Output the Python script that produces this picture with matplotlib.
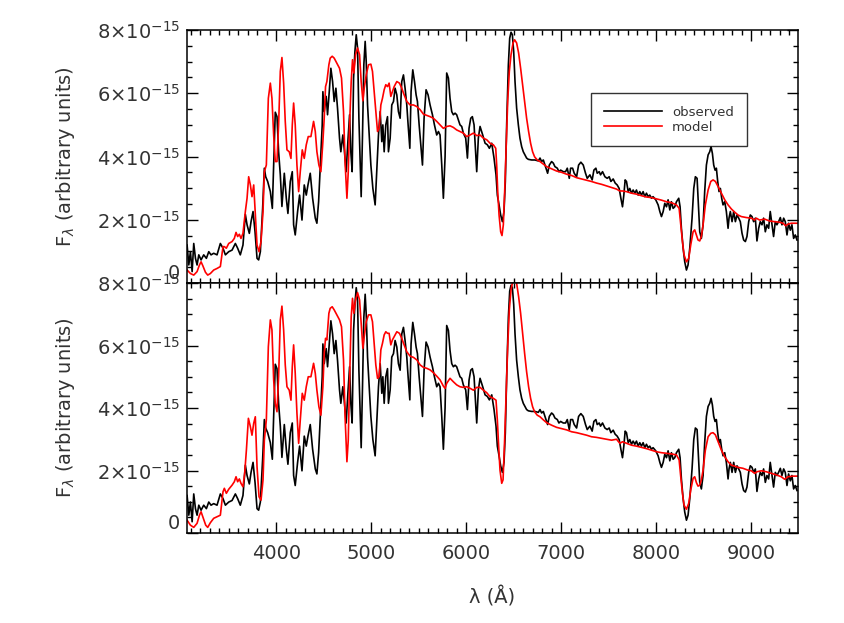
import numpy as np
import matplotlib
matplotlib.use("Agg")
import matplotlib.pyplot as plt
from matplotlib.ticker import MultipleLocator, FuncFormatter
from matplotlib.transforms import ScaledTranslation

# ---------------- data (flux in units of 1e-15) ----------------
SCALE = 1e-15

obs_wave = [3061, 3079, 3096, 3114, 3131, 3149, 3166, 3184, 3208, 3236, 3264, 3289, 3313, 3341, 3376,
            3411, 3439, 3464, 3499, 3534, 3569, 3593, 3621, 3649, 3674, 3692, 3716, 3734, 3755, 3776,
            3797, 3814, 3832, 3856, 3874, 3888, 3909, 3937, 3958, 3972, 3989, 4007, 4024, 4042, 4059,
            4084, 4105, 4122, 4147, 4168, 4182, 4199, 4224, 4245, 4270, 4294, 4315, 4333, 4357, 4382,
            4410, 4427, 4445, 4462, 4483, 4490, 4504, 4525, 4539, 4557, 4574, 4592, 4609, 4627, 4644,
            4665, 4679, 4700, 4714, 4735, 4753, 4771, 4784, 4798, 4813, 4827, 4841, 4855, 4869, 4883,
            4893, 4907, 4921, 4935, 4946, 4960, 4977, 4995, 5016, 5040, 5058, 5075, 5093, 5110, 5121,
            5135, 5152, 5170, 5180, 5198, 5215, 5233, 5250, 5268, 5285, 5303, 5320, 5338, 5355, 5373,
            5387, 5405, 5418, 5436, 5454, 5471, 5485, 5503, 5520, 5538, 5555, 5576, 5597, 5618, 5643,
            5664, 5688, 5706, 5723, 5741, 5758, 5776, 5793, 5811, 5828, 5846, 5863, 5881, 5898, 5916,
            5933, 5951, 5968, 5993, 6011, 6028, 6046, 6063, 6081, 6095, 6109, 6126,
            6144, 6172, 6197, 6221, 6242, 6267, 6291, 6312, 6326, 6344, 6361, 6379, 6396, 6410, 6424,
            6442, 6456, 6470, 6484, 6498, 6512, 6529, 6547, 6564, 6582, 6599, 6617, 6634, 6652, 6687,
            6722, 6757, 6775, 6792, 6810, 6827, 6855, 6873, 6897, 6915, 6932, 6957, 6974, 6992, 7020,
            7044, 7062, 7083, 7097, 7118, 7135, 7160, 7181, 7205, 7230, 7254, 7272, 7300, 7324, 7342,
            7363, 7377, 7398, 7412, 7433, 7458, 7482, 7503, 7521, 7545, 7566, 7587, 7608, 7626, 7643,
            7657, 7671, 7685, 7703, 7720, 7738, 7755, 7773, 7790, 7808, 7825, 7843, 7860, 7878, 7895,
            7913, 7930, 7948, 7965, 7993, 8018, 8036, 8053, 8071, 8088, 8106, 8123, 8141, 8158, 8176,
            8193, 8211, 8235, 8249, 8263, 8281, 8298, 8316, 8333, 8351, 8375, 8393, 8410, 8428, 8442,
            8456, 8473, 8491, 8508, 8526, 8544, 8561, 8575, 8589, 8603, 8617, 8631, 8645, 8659, 8673,
            8687, 8701, 8719, 8736, 8754, 8764, 8778, 8796, 8813, 8831, 8848, 8866, 8883, 8901, 8918,
            8936, 8953, 8971, 8988, 9006, 9023, 9041, 9058, 9076, 9093, 9111, 9128, 9146, 9163, 9181,
            9198, 9216, 9233, 9251, 9268, 9286, 9304, 9321, 9339, 9356, 9374, 9391, 9409, 9426, 9444,
            9461, 9479]
obs_flux = [1.2, 0.57, 0.99, 0.36, 1.25, 0.78, 0.57, 0.89, 0.73, 0.89, 0.78, 0.99, 0.89, 0.94, 0.89,
            1.25, 1.1, 0.89, 0.99, 1.04, 1.25, 1.1, 0.89, 1.2, 2.17, 1.84, 1.57, 1.94, 2.26, 1.62,
            0.78, 0.73, 0.99, 2.36, 3.63, 3.36, 3.21, 2.89, 2.36, 3.73, 5.4, 5.26, 4.15, 3.42, 2.42,
            3.47, 2.68, 2.2, 3.21, 3.52, 1.84, 1.52, 2.26, 2.78, 1.99, 3.1, 2.78, 3.1, 3.47, 2.68,
            2.05, 1.89, 2.57, 3.63, 5.0, 6.05, 5.42, 5.9, 5.32, 6.05, 6.79, 6.37, 5.74, 6.16, 5.53,
            4.58, 4.15, 4.68, 4.26, 3.52, 4.47, 5.32, 4.15, 3.52, 6.48, 7.32, 7.85, 7.43, 5.21, 3.73,
            2.73, 4.68, 6.9, 7.64, 7.0, 5.63, 4.68, 3.73, 2.99, 2.47, 3.63, 4.68, 5.42, 4.47, 5.0,
            4.15, 5.0, 5.26, 4.15, 4.58, 5.63, 5.74, 6.16, 5.95, 5.42, 5.21, 6.37, 6.58, 6.16, 5.63,
            5.0, 4.26, 6.05, 6.74, 6.37, 5.95, 5.74, 5.0, 4.37, 3.73, 5.21, 6.11, 5.95, 5.63, 5.32,
            5.0, 4.68, 4.79, 4.68, 3.73, 2.68, 4.0, 6.64, 6.48, 5.84, 5.42, 5.32, 5.37, 5.32, 5.16,
            5.0, 4.95, 4.74, 4.58, 3.95, 4.89, 5.21, 5.26, 5.0, 4.26, 3.52, 4.58,
            4.95, 4.68, 4.42, 4.37, 4.26, 4.42, 3.95, 3.42, 2.78, 2.47, 2.15, 1.94, 2.26, 3.21, 5.0,
            6.9, 7.74, 7.93, 7.85, 7.32, 6.37, 5.53, 5.0, 4.58, 4.31, 4.15, 4.05, 3.95, 3.91, 3.89,
            3.89, 3.86, 3.95, 3.84, 3.89, 3.73, 3.47, 3.73, 3.84, 3.79, 3.68, 3.63, 3.52, 3.57, 3.52,
            3.52, 3.63, 3.31, 3.63, 3.63, 3.47, 3.36, 3.73, 3.82, 3.73, 3.47, 3.31, 3.42, 3.26, 3.57,
            3.63, 3.47, 3.52, 3.42, 3.52, 3.36, 3.31, 3.36, 3.21, 3.29, 3.16, 3.1, 2.99, 2.68, 2.41,
            2.78, 3.26, 3.21, 2.89, 2.99, 2.84, 2.94, 2.84, 2.94, 2.78, 2.89, 2.78, 2.89, 2.73, 2.84,
            2.73, 2.78, 2.68, 2.73, 2.63, 2.47, 2.26, 2.1, 2.26, 2.52, 2.41, 2.63, 2.31, 2.57, 2.36,
            2.41, 2.57, 2.68, 2.41, 1.73, 1.1, 0.67, 0.41, 0.57, 1.1, 2.05, 2.99, 3.36, 3.31, 2.47,
            1.62, 1.41, 1.84, 2.89, 3.73, 4.05, 4.15, 4.31, 4.1, 3.73, 3.57, 3.63, 3.21, 2.89, 2.99,
            2.68, 2.47, 2.57, 2.26, 1.73, 2.05, 2.26, 1.94, 2.26, 1.94, 2.15, 2.05, 1.94, 1.57, 1.36,
            1.31, 1.47, 1.94, 2.15, 2.1, 1.94, 2.05, 1.33, 1.73, 1.94, 1.84, 2.05, 1.62, 1.84, 1.73,
            2.26, 1.84, 1.47, 1.94, 1.84, 1.94, 2.07, 1.84, 2.05, 1.94, 1.52, 1.89, 1.67, 1.84, 1.41,
            1.52, 1.36]

model_top_wave = [3061, 3096, 3131, 3166, 3191, 3208, 3226, 3254, 3278, 3306, 3341, 3376, 3411, 3439, 3453,
                  3474, 3499, 3534, 3558, 3576, 3593, 3611, 3628, 3649, 3674, 3692, 3709, 3727, 3744, 3762,
                  3779, 3797, 3818, 3839, 3860, 3874, 3895, 3916, 3937, 3954, 3972, 3989, 4007, 4024, 4042,
                  4059, 4077, 4094, 4112, 4136, 4154, 4168, 4182, 4199, 4217, 4235, 4252, 4273, 4294, 4315,
                  4336, 4364, 4392, 4410, 4427, 4448, 4469, 4490, 4504, 4518, 4532, 4553, 4567, 4588, 4609,
                  4637, 4665, 4686, 4707, 4725, 4743, 4757, 4771, 4788, 4802, 4816, 4834, 4855, 4876, 4893,
                  4911, 4925, 4946, 4970, 4995, 5012, 5030, 5047, 5065, 5082, 5100, 5117, 5135, 5152, 5170,
                  5187, 5205, 5222, 5240, 5268, 5296, 5320, 5345, 5373, 5408, 5443, 5478, 5513, 5548, 5583,
                  5618, 5653, 5688, 5723, 5758, 5793, 5828, 5863, 5898, 5933, 5968, 6004, 6039, 6074, 6109,
                  6144, 6179, 6214, 6249, 6284, 6309, 6319, 6330, 6344, 6361, 6375, 6389, 6403, 6417, 6435,
                  6452, 6470, 6491, 6508, 6529, 6550, 6571, 6592, 6613, 6634, 6655, 6676, 6697, 6718, 6746,
                  6775, 6810, 6845, 6897, 6950, 7002, 7055, 7107, 7160, 7212, 7265, 7317, 7370, 7423, 7475,
                  7528, 7580, 7615, 7643, 7685, 7738, 7790, 7843, 7895, 7948, 8001, 8053, 8106, 8158, 8211,
                  8239, 8256, 8274, 8291, 8316, 8340, 8361, 8386, 8403, 8421, 8438, 8456, 8473, 8491, 8515,
                  8544, 8572, 8596, 8621, 8649, 8684, 8719, 8754, 8789, 8824, 8859, 8894, 8946, 8999, 9034,
                  9051, 9086, 9139, 9191, 9244, 9297, 9332, 9360, 9384, 9419, 9472, 9500]
model_top_flux = [0.41, 0.3, 0.25, 0.36, 0.57, 0.67, 0.55, 0.34, 0.25, 0.3, 0.41, 0.46, 0.52, 1.15, 1.15,
                  1.1, 1.25, 1.31, 1.41, 1.6, 1.47, 1.54, 1.41, 1.57, 2.26, 2.68, 3.36, 3.1, 2.73, 3.1,
                  2.15, 1.2, 0.99, 1.31, 2.26, 3.52, 3.73, 5.84, 6.32, 5.84, 4.68, 3.84, 3.84, 5.0, 6.69,
                  7.13, 6.32, 5.11, 4.21, 4.15, 3.94, 5.0, 5.69, 5.0, 3.73, 2.89, 3.52, 4.21, 3.94, 4.37,
                  4.63, 4.63, 5.11, 4.79, 4.15, 3.73, 3.52, 4.47, 5.21, 6.21, 6.37, 6.9, 7.11, 7.17, 7.11,
                  6.95, 6.79, 6.48, 5.42, 3.73, 2.68, 3.52, 5.0, 6.37, 7.06, 6.64, 7.22, 7.43, 7.22, 6.37,
                  5.76, 6.16, 6.58, 6.9, 6.92, 6.69, 6.05, 5.42, 4.79, 4.89, 5.63, 5.84, 6.11, 6.27, 6.21,
                  6.32, 5.9, 6.05, 6.21, 6.37, 6.32, 6.16, 5.95, 5.74, 5.63, 5.63, 5.58, 5.48, 5.34, 5.3,
                  5.26, 5.21, 5.11, 5.0, 4.89, 4.95, 4.97, 4.92, 4.84, 4.79, 4.74, 4.63, 4.68, 4.74, 4.66,
                  4.68, 4.58, 4.53, 4.42, 4.37, 4.26, 3.73, 2.89, 2.15, 1.62, 1.5, 1.84, 2.89, 4.15, 5.74,
                  6.69, 7.22, 7.59, 7.69, 7.59, 7.27, 6.79, 6.27, 5.74, 5.21, 4.79, 4.42, 4.15, 3.99, 3.89,
                  3.84, 3.76, 3.68, 3.61, 3.54, 3.5, 3.44, 3.4, 3.33, 3.29, 3.25, 3.21, 3.16, 3.12, 3.07,
                  3.02, 2.97, 2.91, 2.91, 2.89, 2.84, 2.81, 2.76, 2.72, 2.7, 2.66, 2.62, 2.57, 2.54, 2.47,
                  2.36, 1.84, 1.31, 0.89, 0.67, 0.78, 1.2, 1.62, 1.68, 1.52, 1.36, 1.33, 1.47, 1.84, 2.47,
                  2.94, 3.21, 3.26, 3.21, 3.05, 2.84, 2.63, 2.47, 2.34, 2.24, 2.15, 2.1, 2.07, 2.05, 1.99,
                  2.05, 1.99, 2.02, 1.96, 1.94, 1.92, 1.89, 1.81, 1.86, 1.89, 1.89, 1.89]

model_bot_wave = [3061, 3096, 3131, 3166, 3191, 3208, 3229, 3257, 3278, 3306, 3341, 3376, 3411, 3439, 3453,
                  3474, 3499, 3534, 3558, 3576, 3593, 3611, 3628, 3649, 3667, 3685, 3706, 3727, 3744, 3762,
                  3779, 3797, 3818, 3839, 3860, 3874, 3895, 3916, 3937, 3954, 3972, 3989, 4007, 4024, 4042,
                  4059, 4077, 4094, 4112, 4136, 4154, 4168, 4182, 4199, 4217, 4235, 4252, 4273, 4294, 4315,
                  4336, 4364, 4392, 4410, 4427, 4448, 4469, 4490, 4504, 4518, 4532, 4553, 4567, 4588, 4609,
                  4637, 4665, 4686, 4707, 4725, 4743, 4757, 4771, 4788, 4802, 4816, 4834, 4855, 4876, 4893,
                  4911, 4925, 4946, 4970, 4995, 5012, 5030, 5047, 5065, 5082, 5100, 5117, 5135, 5152, 5170,
                  5187, 5205, 5222, 5240, 5268, 5296, 5320, 5345, 5373, 5408, 5443, 5478, 5513, 5548, 5583,
                  5618, 5653, 5688, 5723, 5758, 5776, 5793, 5828, 5863, 5898, 5933, 5968, 6004, 6039, 6074,
                  6109, 6144, 6179, 6214, 6249, 6284, 6312, 6326, 6340, 6354, 6372, 6386, 6400, 6417, 6435,
                  6452, 6470, 6487, 6500, 6508, 6529, 6550, 6571, 6592, 6613, 6634, 6655, 6676, 6697, 6718,
                  6746, 6775, 6810, 6845, 6897, 6950, 7002, 7055, 7107, 7160, 7212, 7265, 7317, 7370, 7423,
                  7475, 7528, 7580, 7615, 7643, 7685, 7738, 7790, 7843, 7895, 7948, 8001, 8053, 8106, 8158,
                  8211, 8239, 8256, 8274, 8291, 8316, 8340, 8361, 8386, 8403, 8421, 8438, 8456, 8473, 8491,
                  8515, 8544, 8572, 8596, 8621, 8649, 8684, 8719, 8754, 8789, 8824, 8859, 8911, 8964, 8999,
                  9034, 9058, 9104, 9156, 9209, 9262, 9314, 9349, 9384, 9437, 9500]
model_bot_flux = [0.41, 0.25, 0.18, 0.31, 0.57, 0.68, 0.5, 0.25, 0.18, 0.33, 0.47, 0.52, 0.57, 1.32, 1.43,
                  1.27, 1.4, 1.53, 1.64, 1.8, 1.64, 1.73, 1.59, 1.48, 1.91, 2.65, 3.67, 3.4, 3.13, 3.51,
                  3.72, 2.12, 1.16, 1.05, 1.7, 2.97, 3.62, 5.96, 6.82, 6.5, 4.9, 4.15, 3.88, 5.0, 6.82,
                  7.26, 6.5, 5.38, 4.68, 4.57, 4.25, 5.32, 6.02, 5.11, 3.83, 2.87, 3.61, 4.47, 4.25, 4.68,
                  5.0, 5.0, 5.43, 5.11, 4.57, 4.04, 3.77, 4.68, 5.75, 6.23, 6.18, 7.03, 7.19, 7.24, 7.14,
                  6.98, 6.82, 6.6, 5.54, 3.61, 2.28, 2.97, 4.9, 6.92, 7.51, 7.03, 7.46, 7.69, 7.46, 6.71,
                  5.91, 6.28, 6.76, 6.98, 6.98, 6.76, 6.07, 5.38, 4.95, 5.0, 5.86, 6.07, 6.34, 6.44, 6.39,
                  6.39, 6.02, 6.18, 6.28, 6.44, 6.39, 6.23, 6.02, 5.8, 5.66, 5.62, 5.54, 5.38, 5.3, 5.27,
                  5.22, 5.13, 5.02, 4.9, 4.7, 4.63, 4.79, 4.95, 4.84, 4.74, 4.68, 4.66, 4.68, 4.63, 4.57,
                  4.66, 4.66, 4.57, 4.49, 4.36, 4.31, 4.25, 3.61, 2.76, 2.01, 1.59, 1.7, 2.76, 4.36, 5.96,
                  7.14, 7.78, 8.04, 8.2, 8.2, 7.99, 7.56, 7.03, 6.39, 5.75, 5.16, 4.68, 4.31, 4.04, 3.88,
                  3.77, 3.72, 3.62, 3.53, 3.45, 3.38, 3.34, 3.3, 3.24, 3.21, 3.17, 3.13, 3.08, 3.06, 3.03,
                  3.0, 2.97, 3.0, 2.87, 2.92, 2.87, 2.81, 2.78, 2.74, 2.7, 2.65, 2.6, 2.57, 2.55, 2.53,
                  2.5, 2.34, 1.8, 1.27, 0.89, 0.76, 0.95, 1.37, 1.75, 1.8, 1.61, 1.5, 1.53, 1.7, 2.01,
                  2.65, 3.08, 3.19, 3.21, 3.14, 2.92, 2.65, 2.44, 2.28, 2.17, 2.14, 2.1, 2.07, 2.01, 1.99,
                  1.91, 1.96, 1.99, 1.96, 1.91, 1.86, 1.8, 1.72, 1.8, 1.82, 1.82]

x_ticks = [4000, 5000, 6000, 7000, 8000, 9000]
y_ticks = [0, 2e-15, 4e-15, 6e-15, 8e-15]
legend_labels = ["observed", "model"]

# ---------------- figure ----------------
TXT = "#333333"
plt.rcParams["font.family"] = ["DejaVu Sans"]
plt.rcParams["mathtext.fontset"] = "dejavusans"

fig = plt.figure(figsize=(8.45, 6.23), dpi=100)
W, H = 845, 623
ax_top = fig.add_axes([187 / W, 1 - 283 / H, 611 / W, 253 / H])
ax_bot = fig.add_axes([187 / W, 1 - 533 / H, 611 / W, 250 / H])


def yfmt(v, pos):
    if abs(v) < 1e-20:
        return "0"
    return r"$%d{\times}10^{-15}$" % round(v / 1e-15)


obs_w = np.array(obs_wave)
obs_f = np.array(obs_flux) * SCALE

for ax, mw, mf in [(ax_top, model_top_wave, model_top_flux), (ax_bot, model_bot_wave, model_bot_flux)]:
    ax.plot(obs_w, obs_f, color="black", lw=1.2, label=legend_labels[0])
    ax.plot(np.array(mw), np.array(mf) * SCALE, color="#ff0000", lw=1.2, label=legend_labels[1])
    ax.set_xlim(3060, 9490)
    ax.set_ylim(0, 8e-15)
    ax.set_xticks(x_ticks)
    ax.xaxis.set_minor_locator(MultipleLocator(100))
    ax.set_yticks(y_ticks)
    ax.yaxis.set_minor_locator(MultipleLocator(0.5e-15))
    ax.yaxis.set_major_formatter(FuncFormatter(yfmt))
    ax.tick_params(which="both", direction="in", top=True, right=True, colors="black",
                   labelcolor=TXT, labelsize=14, width=1.0)
    ax.tick_params(which="major", length=8)
    ax.tick_params(which="minor", length=3.5)
    ax.tick_params(axis="y", pad=5)
    ax.tick_params(axis="x", pad=8)
    for s in ax.spines.values():
        s.set_linewidth(1.1)
    ax.set_ylabel(r"F$_\lambda$ (arbitrary units)", fontsize=14, color=TXT)
    ax.yaxis.set_label_coords(-0.18, 0.5)

ax_top.tick_params(axis="x", labelbottom=False)
ax_bot.set_xlabel(r"λ (Å)", fontsize=14, color=TXT, labelpad=17)

# lift the "0" labels slightly, as in the original
for ax in (ax_top, ax_bot):
    t0 = ax.yaxis.get_major_ticks()[0].label1
    t0.set_transform(t0.get_transform() + ScaledTranslation(0, 8 / 72, fig.dpi_scale_trans))

leg = ax_top.legend(loc="upper left", bbox_to_anchor=((591 - 187) / 611, (283 - 93) / 253),
                    borderaxespad=0, frameon=True, fancybox=False, fontsize=9.5,
                    handlelength=4.4, handletextpad=0.8, borderpad=0.95, labelspacing=0.15)
leg.get_frame().set_edgecolor("black")
leg.get_frame().set_linewidth(1.0)
for t in leg.get_texts():
    t.set_color(TXT)
for l in leg.get_lines():
    l.set_linewidth(1.2)

fig.savefig("out.png", dpi=100)
